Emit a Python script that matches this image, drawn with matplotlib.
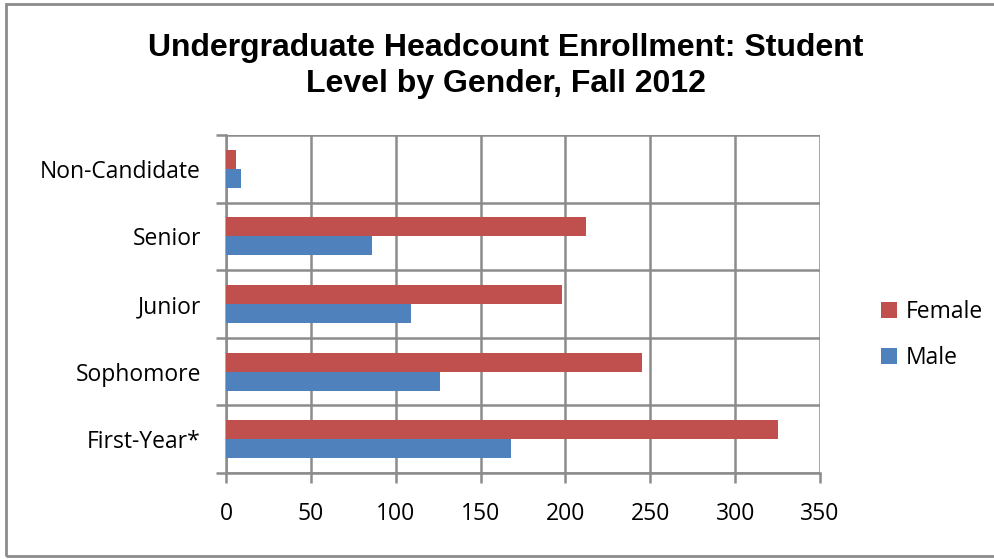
import matplotlib
matplotlib.use("Agg")
import matplotlib.pyplot as plt
import numpy as np
from matplotlib.patches import Rectangle

levels = ["First-Year*", "Sophomore", "Junior", "Senior", "Non-Candidate"]
female = [325, 245, 198, 212, 6]
male = [168, 126, 109, 86, 9]
x_ticks = [0, 50, 100, 150, 200, 250, 300, 350]

FEMALE_COLOR = "#C0504D"
MALE_COLOR = "#4F81BD"
GRID_COLOR = "#8C8C8C"
LABEL_FONT = ["Open Sans", "DejaVu Sans"]
LABEL_SIZE = 16.5

fig = plt.figure(figsize=(9.95, 5.59), dpi=100)
ax = fig.add_axes([226 / 995, 1 - 473 / 559, (820 - 226) / 995, (473 - 135) / 559])

y = np.arange(len(levels))
h = 0.28
ax.barh(y + h / 2, female, height=h, color=FEMALE_COLOR, label="Female", zorder=3)
ax.barh(y - h / 2, male, height=h, color=MALE_COLOR, label="Male", zorder=3)

ax.set_xlim(0, 350)
ax.set_ylim(-0.5, len(levels) - 0.5)

# gridlines on category boundaries and value ticks
for b in np.arange(-0.5, len(levels), 1.0):
    ax.axhline(b, color=GRID_COLOR, lw=1.8, zorder=1)
for t in x_ticks:
    ax.axvline(t, color=GRID_COLOR, lw=1.8, zorder=1)

ax.set_xticks(x_ticks)
ax.set_xticklabels([str(t) for t in x_ticks], family=LABEL_FONT, fontsize=LABEL_SIZE)
ax.set_yticks(y)
ax.set_yticklabels(levels, family=LABEL_FONT, fontsize=LABEL_SIZE)
ax.set_yticks(np.arange(-0.5, len(levels), 1.0), minor=True)
ax.tick_params(axis="y", which="major", length=0, pad=18)
ax.tick_params(axis="y", which="minor", length=7, width=1.8, color=GRID_COLOR)
ax.tick_params(axis="x", which="major", length=7, width=1.8, color=GRID_COLOR, pad=14)

for side in ["top", "right"]:
    ax.spines[side].set_visible(False)
for side in ["left", "bottom"]:
    ax.spines[side].set_color(GRID_COLOR)
    ax.spines[side].set_linewidth(1.8)

fig.text(0.508, 1 - 48 / 559, "Undergraduate Headcount Enrollment: Student",
         ha="center", va="center", fontsize=23, fontweight="bold", family="Liberation Sans")
fig.text(0.508, 1 - 84 / 559, "Level by Gender, Fall 2012",
         ha="center", va="center", fontsize=23, fontweight="bold", family="Liberation Sans")

handles, labels = ax.get_legend_handles_labels()
fig.legend(handles, labels, loc="center left",
           bbox_to_anchor=(860 / 995, 1 - 335 / 559), frameon=False,
           prop={"family": LABEL_FONT, "size": LABEL_SIZE}, handlelength=0.7, handleheight=0.7,
           handletextpad=0.4, labelspacing=1.0)

fig.patches.append(Rectangle((6 / 995, 3 / 559), 1.1, 1 - 7 / 559, transform=fig.transFigure,
                             fill=False, edgecolor=GRID_COLOR, lw=2))

fig.savefig("out.png", dpi=100)
